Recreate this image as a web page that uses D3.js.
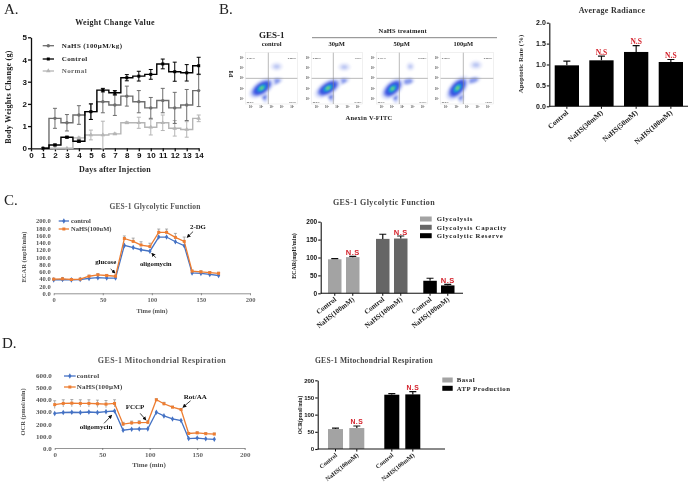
<!DOCTYPE html>
<html>
<head>
<meta charset="utf-8">
<script src="https://d3js.org/d3.v7.min.js"></script>
<style>
  html, body { margin: 0; padding: 0; background: #fff; }
  svg { display: block; }
  text { font-family: "Liberation Serif", serif; font-weight: bold; }
  .sans text, text.sans { font-family: "Liberation Sans", sans-serif; }
</style>
</head>
<body>
<div id="chart"></div>
<script>
// ---- Panel A: body weight ----
var days = [1,2,3,4,5,6,7,8,9,10,11,12,13,14];
var nahsWeight = [0,1.35,1.15,1.5,1.65,2.1,1.95,2.35,2.1,1.82,2.15,1.82,1.95,2.6];
var nahsWeightErr = [0,.45,.37,.42,.35,.5,.47,.45,.5,.47,.55,.7,.7,.72];
var controlWeight = [0,.15,.5,.32,1.65,2.62,2.5,3.18,3.25,3.33,3.8,3.45,3.4,3.72];
var controlWeightErr = [0,.04,.04,.05,.35,.08,.1,.14,.22,.22,.22,.43,.37,.38];
var normalWeight = [0,0,0,.47,.6,.6,.65,1.15,1.15,.95,1.15,.9,.85,1.35];
var normalWeightErr = [0,0,0,.03,.22,.62,.03,.04,.25,.35,.35,.35,.35,.15];

// ---- Panel B: flow cytometry and apoptosis ----
var flowPanels = ["control","30μM","50μM","100μM"];
var flowQuadrants = [
  ["0.101%","0.206%","99.2%","0.45%"],
  ["0.200%","1.01%","98.0%","0.79%"],
  ["0.113%","0.760%","98.4%","0.73%"],
  ["0.300%","0.980%","96.9%","1.82%"]
];
// cluster centre and spread in log decades, per panel: x, y, sx, sy, angle
var flowMain = [[1.55,1.55,1.15,.6,-35],[1.6,1.55,1.2,.6,-32],[1.55,1.5,1.1,.62,-42],[1.6,1.55,1.15,.62,-48]];
var flowTail = [[1.75,1.0,.3,.75,-12],[1.8,1.0,.3,.75,-12],[1.75,.95,.32,.75,-12],[1.8,1.0,.32,.75,-12]];
var flowMid = [[2.85,2.2,.62,.3,-15],[2.9,2.2,.7,.28,-15],[3.05,2.2,.55,.3,-12],[3.05,2.3,.62,.28,-15]];
var flowUpper = [[3.0,3.65,.6,.42,0],[3.2,3.6,.62,.42,0],[3.3,3.65,.4,.42,0],[3.35,3.8,.62,.42,0]];
var flowDecades = [1,2,3,4,5];

var apoptosisLabels = ["Control","NaHS(30mM)","NaHS(50mM)","NaHS(100mM)"];
var apoptosisRate = [.98,1.1,1.3,1.06];
var apoptosisErr = [.1,.1,.15,.06];
var apoptosisFlag = [false,true,true,true];

// ---- Panel C: glycolysis ----
var seahorseTime = [0,9,18,27,36,45,54,63,72,81,89,98,107,115,124,133,141,150,159,168];
var ecarControl = [37,38,37,38,41,43,42,42,132,126,120,116,155,155,142,131,56,55,52,49];
var ecarNahs = [39,40,38,39,47,51,49,47,151,143,133,129,168,168,154,143,61,59,57,55];
var ecarNahsErr = [2,3,2,2,3,3,3,3,7,9,9,9,9,9,11,12,3,3,3,3];
var ecarTicks = [0,20,40,60,80,100,120,140,160,180,200];
var glycoNames = ["Glycolysis","Glycolysis Capacity","Glycolytic Reserve"];
var glycoLabels = ["Control","NaHS(100mM)","Control","NaHS(100mM)","Control","NaHS(100mM)"];
var glycoValues = [95,101,152,153,35,22];
var glycoErr = [2,2,13,7,7,3];
var glycoGroup = [0,0,1,1,2,2];

// ---- Panel D: mitochondrial respiration ----
var ocrControl = [285,293,295,293,297,293,300,305,147,155,157,158,295,265,240,227,78,82,76,72];
var ocrNahs = [358,368,370,368,368,365,362,368,197,207,210,212,398,365,337,317,120,125,118,115];
var ocrNahsErr = [32,30,30,30,30,30,30,30,15,15,15,15,8,12,8,8,8,8,8,8];
var ocrTicks = [0,100,200,300,400,500,600];
var mitoNames = ["Basal","ATP Production"];
var mitoLabels = ["Control","NaHS(100mM)","Control","NaHS(100mM)"];
var mitoValues = [58,61,158,159];
var mitoErr = [3,6,3,8];
var mitoGroup = [0,0,1,1];

var rootSvg = d3.select("#chart").append("svg").attr("width", 689).attr("height", 484);
var defs = rootSvg.append("defs");

// the source figure is a soft, low resolution scan
defs.append("filter").attr("id","soft").attr("filterUnits","userSpaceOnUse")
  .attr("x",0).attr("y",0).attr("width",689).attr("height",484)
  .append("feGaussianBlur").attr("stdDeviation",.35);
var svg = rootSvg.append("g").attr("filter","url(#soft)");

function label(x, y, str, size, opts) {
  opts = opts || {};
  var t = svg.append("text")
    .attr("x", x).attr("y", y)
    .attr("font-size", size)
    .attr("text-anchor", opts.anchor || "middle")
    .attr("fill", opts.fill || "#222")
    .style("font-weight", opts.weight || "bold")
    .text(str);
  if (opts.ls) t.attr("letter-spacing", opts.ls);
  if (opts.sans) t.attr("class", "sans");
  if (opts.rotate) t.attr("transform", "rotate(" + opts.rotate + " " + x + " " + y + ")");
  return t;
}

// panel letters
label(4, 14, "A.", 15, {anchor: "start", weight: "normal"});
label(219, 14, "B.", 15, {anchor: "start", weight: "normal"});
label(4, 205, "C.", 15, {anchor: "start", weight: "normal"});
label(2, 348, "D.", 15, {anchor: "start", weight: "normal"});

function styleAxis(g, color, width, fontSize, sans) {
  g.selectAll("path, line").attr("stroke", color).attr("stroke-width", width);
  g.selectAll("text").attr("font-size", fontSize).attr("fill", color);
  if (sans) g.classed("sans", true);
}

// ---------------------------//
//       PANEL A              //
// ---------------------------//
var ax = d3.scaleLinear().domain([0,14]).range([31,198.7]);
var ay = d3.scaleLinear().domain([0,5]).range([148.3,37.3]);

svg.append("g").attr("transform","translate(0,148.3)")
  .call(d3.axisBottom(ax).ticks(14).tickSize(3).tickPadding(1).tickSizeOuter(0))
  .call(styleAxis, "#111", 1.3, 8, true);
svg.append("g").attr("transform","translate(31,0)")
  .call(d3.axisLeft(ay).ticks(5).tickSize(3).tickPadding(1).tickSizeOuter(0))
  .call(styleAxis, "#111", 1.3, 8, true);

var weightSeries = [
  {name:"Normal", values:normalWeight, err:normalWeightErr, color:"#b5b5b5", mark:d3.symbolTriangle},
  {name:"NaHS (100μM/kg)", values:nahsWeight, err:nahsWeightErr, color:"#6e6e6e", mark:d3.symbolCircle},
  {name:"Control", values:controlWeight, err:controlWeightErr, color:"#000", mark:d3.symbolSquare}
];
var stepLine = d3.line().curve(d3.curveStep)
  .x(function(d,i){ return ax(days[i]); })
  .y(function(d){ return ay(d); });

weightSeries.forEach(function(s) {
  var g = svg.append("g");
  g.append("path").attr("d", stepLine(s.values))
    .attr("fill","none").attr("stroke",s.color).attr("stroke-width",1.4);
  s.values.forEach(function(v,i) {
    if (!s.err[i]) return;
    var x = ax(days[i]);
    g.append("path")
      .attr("d","M"+(x-2)+","+ay(v+s.err[i])+"H"+(x+2)+"M"+x+","+ay(v+s.err[i])+"V"+ay(v-s.err[i])+"M"+(x-2)+","+ay(v-s.err[i])+"H"+(x+2))
      .attr("stroke",s.color).attr("stroke-width",1).attr("fill","none");
  });
  g.selectAll("path.mk").data(s.values).enter().append("path").attr("class","mk")
    .attr("d", d3.symbol().type(s.mark).size(9))
    .attr("transform", function(d,i){ return "translate("+ax(days[i])+","+ay(d)+")"; })
    .attr("fill", s.color);
});

var weightLegend = [weightSeries[1], weightSeries[2], weightSeries[0]];
weightLegend.forEach(function(s,i) {
  var y = [45.7,59,71][i];
  svg.append("line").attr("x1",42.7).attr("x2",54).attr("y1",y).attr("y2",y)
    .attr("stroke",s.color).attr("stroke-width",1.3);
  svg.append("path").attr("d", d3.symbol().type(s.mark).size(9))
    .attr("transform","translate(48.3,"+y+")").attr("fill",s.color);
  label(61.7, y+2.3, s.name, 7, {anchor:"start", fill: i==2 ? "#666" : "#222", ls:.4});
});
label(115, 24.5, "Weight Change Value", 8, {ls:.3});
label(115, 172, "Days after Injection", 8, {ls:.2});
label(11, 97, "Body Weights Change (g)", 8, {rotate:-90, ls:.3});

// ---------------------------//
//       PANEL B FLOW         //
// ---------------------------//
defs.append("filter").attr("id","flowBlur")
  .attr("x","-50%").attr("y","-50%").attr("width","200%").attr("height","200%")
  .append("feGaussianBlur").attr("stdDeviation",.9);
var flowBoxes = [[245.7,297.3],[311.7,362.7],[376.7,427.7],[440.7,493.3]];
var flowGates = [268.3,333.3,399.3,463.3];
// main population, outer haze to hot centre
var mainLayers = [
  {k:1.25, color:"#e3e7fb"},
  {k:1.0, color:"#8c9ff0"},
  {k:.8, color:"#3c55e2"},
  {k:.5, color:"#1c72e0"},
  {k:.34, color:"#16aed2"},
  {k:.22, color:"#2fd36c"},
  {k:.1, color:"#c8e438"}
];

flowPanels.forEach(function(name,p) {
  var box = flowBoxes[p];
  var fx = d3.scaleLinear().domain([0,5]).range(box);
  var fy = d3.scaleLinear().domain([0,5]).range([104,52.7]);
  var g = svg.append("g");
  g.append("rect").attr("x",box[0]).attr("y",52.7).attr("width",box[1]-box[0]).attr("height",51.3)
    .attr("fill","#fff").attr("stroke","#e2e2e2").attr("stroke-width",.5);

  var clip = defs.append("clipPath").attr("id","flowClip"+p);
  clip.append("rect").attr("x",box[0]).attr("y",52.7).attr("width",box[1]-box[0]).attr("height",51.3);
  var dots = g.append("g").attr("clip-path","url(#flowClip"+p+")").append("g").attr("filter","url(#flowBlur)");

  function blob(c, k, color, op) {
    dots.append("ellipse")
      .attr("cx",fx(c[0])).attr("cy",fy(c[1]))
      .attr("rx",fx(c[2]*k)-fx(0)).attr("ry",fx(c[3]*k)-fx(0))
      .attr("transform","rotate("+c[4]+" "+fx(c[0])+" "+fy(c[1])+")")
      .attr("fill",color).attr("opacity",op);
  }
  blob(flowUpper[p],1,"#e6e9fb",.9);
  blob(flowUpper[p],.5,"#b7c3f3",.9);
  blob(flowMid[p],1.25,"#dde2fa",.9);
  blob(flowMid[p],.85,"#7f93ec",.9);
  blob(flowTail[p],1.2,"#cdd5f8",.9);
  blob(flowTail[p],.8,"#5c74e6",.9);
  mainLayers.forEach(function(l){ blob(flowMain[p],l.k,l.color,1); });

  // gates
  g.append("line").attr("x1",flowGates[p]).attr("x2",flowGates[p]).attr("y1",52.7).attr("y2",104)
    .attr("stroke","#8a8a8a").attr("stroke-width",.6);
  g.append("line").attr("x1",box[0]).attr("x2",box[1]).attr("y1",fy(2.5)).attr("y2",fy(2.5))
    .attr("stroke","#8a8a8a").attr("stroke-width",.6);

  // tiny decade ticks and gate text
  flowDecades.forEach(function(d) {
    var tx = fx(d-.5), ty = fy(d-.5);
    g.append("text").attr("x",box[0]-2).attr("y",ty+1).attr("text-anchor","end")
      .attr("font-size",3).attr("fill","#555").text("10"+"⁰¹²³⁴⁵"[d]);
    g.append("text").attr("x",tx).attr("y",108).attr("text-anchor","middle")
      .attr("font-size",3).attr("fill","#555").text("10"+"⁰¹²³⁴⁵"[d]);
  });
  var q = flowQuadrants[p];
  g.append("text").attr("x",box[0]+1).attr("y",59).attr("font-size",2.6).attr("fill","#555").text(q[0]);
  g.append("text").attr("x",box[1]-1).attr("y",59).attr("text-anchor","end").attr("font-size",2.6).attr("fill","#555").text(q[1]);
  g.append("text").attr("x",box[0]+1).attr("y",103).attr("font-size",2.6).attr("fill","#555").text(q[2]);
  g.append("text").attr("x",box[1]-1).attr("y",103).attr("text-anchor","end").attr("font-size",2.6).attr("fill","#555").text(q[3]);
});

label(271.7, 37.7, "GES-1", 9);
label(271.7, 46, "control", 6.5);
label(402.7, 33, "NaHS treatment", 6.5, {ls:.2});
svg.append("line").attr("x1",312).attr("x2",497).attr("y1",37.7).attr("y2",37.7).attr("stroke","#666").attr("stroke-width",.8);
label(336.7, 46, "30μM", 6.5);
label(401.7, 46, "50μM", 6.5);
label(463.3, 46, "100μM", 6.5);
label(233, 74, "PI", 7, {rotate:-90});
label(369, 120, "Anexin V-FITC", 6.5, {ls:.3});

// ---------------------------//
//       BAR PANELS           //
// ---------------------------//
function barChart(cfg) {
  var x = d3.scaleOrdinal().domain(d3.range(cfg.values.length)).range(cfg.lefts);
  var y = d3.scaleLinear().domain(cfg.domain).range([cfg.base,cfg.top]);
  var g = svg.append("g");
  cfg.values.forEach(function(v,i) {
    var bx = x(i), bw = cfg.barWidth, cx = bx + bw/2;
    g.append("rect").attr("x",bx).attr("width",bw).attr("y",y(v)).attr("height",cfg.base-y(v))
      .attr("fill",cfg.colors[cfg.group ? cfg.group[i] : 0]);
    g.append("path").attr("d","M"+(cx-3.5)+","+y(v+cfg.err[i])+"H"+(cx+3.5)+"M"+cx+","+y(v+cfg.err[i])+"V"+y(v))
      .attr("stroke","#111").attr("stroke-width",1.2).attr("fill","none");
    // tick under each bar
    g.append("line").attr("x1",cx).attr("x2",cx).attr("y1",cfg.base).attr("y2",cfg.base+2.5)
      .attr("stroke","#111").attr("stroke-width",1);
    g.append("text")
      .attr("transform","translate("+(cx+2)+","+(cfg.base+7)+") rotate("+cfg.labelAngle+")")
      .attr("text-anchor","end").attr("font-size",cfg.labelSize).attr("fill","#222")
      .text(cfg.labels[i]);
    if (cfg.flags[i]) {
      g.append("text").attr("x",cx).attr("y",y(v+cfg.err[i])-1.5).attr("text-anchor","middle")
        .attr("font-size",cfg.flagSize).attr("fill","#d4202a").classed("sans",!!cfg.flagSans)
        .attr("letter-spacing",cfg.flagSans ? .5 : 0)
        .text("N.S");
    }
  });
  svg.append("g").attr("transform","translate("+cfg.axisX+",0)")
    .call(d3.axisLeft(y).tickValues(cfg.ticks).tickFormat(cfg.format).tickSize(2.5).tickPadding(1).tickSizeOuter(0))
    .call(styleAxis,"#111",1.1,cfg.tickSize,true);
  svg.append("line").attr("x1",cfg.axisX).attr("x2",cfg.axisEnd).attr("y1",cfg.base).attr("y2",cfg.base)
    .attr("stroke","#111").attr("stroke-width",1.1);
}

barChart({
  values:apoptosisRate, err:apoptosisErr, labels:apoptosisLabels, flags:apoptosisFlag,
  domain:[0,2], base:106.3, top:22.7, axisX:549.3, axisEnd:688,
  lefts:[554.7,589.3,624,658.7], barWidth:24.3,
  colors:["#000"], ticks:[0,.5,1,1.5,2], format:d3.format(".1f"),
  labelSize:7.3, labelAngle:-41, flagSize:7.5, tickSize:7
});
label(612, 12.5, "Average Radiance", 8, {fill:"#333", ls:.3});
label(523, 64, "Apoptotic Rate (%)", 7, {rotate:-90, fill:"#333"});

barChart({
  values:glycoValues, err:glycoErr, labels:glycoLabels, group:glycoGroup,
  flags:[false,true,false,true,false,true],
  domain:[0,200], base:293.3, top:221.7, axisX:320.7, axisEnd:463,
  lefts:[328,346,376,394,423.3,441], barWidth:13.5,
  colors:["#a3a3a3","#666666","#000"], ticks:[0,50,100,150,200], format:d3.format("d"),
  labelSize:7, labelAngle:-38, flagSize:7.5, flagSans:true, tickSize:6.5
});
label(384, 205, "GES-1 Glycolytic Function", 8, {fill:"#444", ls:.4});
label(296, 256, "ECAR(mpH/min)", 6, {rotate:-90});
glycoNames.forEach(function(n,i) {
  var y = [219,227.3,235.7][i];
  svg.append("rect").attr("x",420).attr("y",y-2.5).attr("width",11.7).attr("height",5)
    .attr("fill",["#a3a3a3","#666666","#000"][i]);
  label(436.7, y+2.2, n, 6.8, {anchor:"start", ls:.7});
});

barChart({
  values:mitoValues, err:mitoErr, labels:mitoLabels, group:mitoGroup,
  flags:[false,true,false,true],
  domain:[0,200], base:449, top:380.3, axisX:317.7, axisEnd:445,
  lefts:[328,349.3,384.3,405.3], barWidth:15,
  colors:["#a3a3a3","#000"], ticks:[0,50,100,150,200], format:d3.format("d"),
  labelSize:6.2, labelAngle:-39, flagSize:6.8, flagSans:true, tickSize:6
});
label(374, 363, "GES-1 Mitochondrial Respiration", 7.5, {fill:"#444", ls:.3});
label(302, 415, "OCR(pmol/min)", 5.5, {rotate:-90});
mitoNames.forEach(function(n,i) {
  var y = [380,388.3][i];
  svg.append("rect").attr("x",442.3).attr("y",y-2.5).attr("width",10.4).attr("height",5)
    .attr("fill",["#a3a3a3","#000"][i]);
  label(456.7, y+2.2, n, 6.8, {anchor:"start", ls:.5});
});

// ---------------------------//
//       SEAHORSE LINES       //
// ---------------------------//
defs.append("marker").attr("id","arrow").attr("viewBox","0 0 6 6").attr("refX",5).attr("refY",3)
  .attr("markerWidth",5).attr("markerHeight",5).attr("orient","auto")
  .append("path").attr("d","M0,0L6,3L0,6Z").attr("fill","#111");

function seahorse(cfg) {
  var x = d3.scaleLinear().domain([0,200]).range(cfg.xr);
  var y = d3.scaleLinear().domain(cfg.domain).range(cfg.yr);
  svg.append("g").attr("transform","translate(0,"+cfg.yr[0]+")")
    .call(d3.axisBottom(x).ticks(4).tickSize(2).tickPadding(2).tickSizeOuter(0))
    .call(styleAxis,"#666",.7,cfg.tickSize);
  svg.append("g").attr("transform","translate("+cfg.xr[0]+",0)")
    .call(d3.axisLeft(y).tickValues(cfg.ticks).tickFormat(d3.format(".1f")).tickSize(0).tickPadding(3))
    .call(styleAxis,"#555",.7,cfg.tickSize)
    .select("path").attr("stroke","none");

  var line = d3.line().x(function(d,i){ return x(seahorseTime[i]); }).y(function(d){ return y(d); });

  // error bars first so the lines sit on top
  cfg.nahsErr.forEach(function(e,i) {
    var px = x(seahorseTime[i]);
    svg.append("path")
      .attr("d","M"+(px-1.5)+","+y(cfg.nahs[i]+e)+"H"+(px+1.5)+"M"+px+","+y(cfg.nahs[i]+e)+"V"+y(cfg.nahs[i]-(cfg.both?e:0)))
      .attr("stroke","#8a8a8a").attr("stroke-width",.7).attr("fill","none");
  });
  [[cfg.control,"#4472c4",d3.symbolDiamond],[cfg.nahs,"#ed7d31",d3.symbolSquare]].forEach(function(s) {
    svg.append("path").attr("d",line(s[0])).attr("fill","none").attr("stroke",s[1]).attr("stroke-width",1.3);
    svg.append("g").selectAll("path").data(s[0]).enter().append("path")
      .attr("d",d3.symbol().type(s[2]).size(9))
      .attr("transform",function(d,i){ return "translate("+x(seahorseTime[i])+","+y(d)+")"; })
      .attr("fill",s[1]);
  });

  cfg.notes.forEach(function(n) {
    label(x(n.t), y(n.v), n.text, cfg.noteSize, {fill:"#111"});
    svg.append("line").attr("x1",x(n.from[0])).attr("y1",y(n.from[1]))
      .attr("x2",x(n.to[0])).attr("y2",y(n.to[1]))
      .attr("stroke","#111").attr("stroke-width",.8).attr("marker-end","url(#arrow)");
  });
}

seahorse({
  xr:[53.7,250], yr:[293.3,220.7], domain:[0,200], ticks:ecarTicks, tickSize:6.5, noteSize:6.8,
  control:ecarControl, nahs:ecarNahs, nahsErr:ecarNahsErr, both:false,
  notes:[
    {text:"glucose", t:53, v:81, from:[58,67], to:[62.5,56]},
    {text:"oligomycin", t:104, v:76, from:[104,98], to:[100,110]},
    {text:"2-DG", t:147, v:177, from:[142,170], to:[136,154]}
  ]
});
label(155, 209, "GES-1 Glycolytic Function", 7.5, {fill:"#555", ls:.2});
label(152, 313, "Time (min)", 6.5, {fill:"#555"});
label(26, 257, "ECAR (mpH/min)", 6.5, {rotate:-90, fill:"#555"});

seahorse({
  xr:[54.7,244.7], yr:[448,375.3], domain:[0,600], ticks:ocrTicks, tickSize:7, noteSize:7,
  control:ocrControl, nahs:ocrNahs, nahsErr:ocrNahsErr, both:true,
  notes:[
    {text:"oligomycin", t:43.5, v:157, from:[52,204], to:[60,270]},
    {text:"FCCP", t:84.5, v:322, from:[90,286], to:[96,231]},
    {text:"Rot/AA", t:148, v:404, from:[143,390], to:[135,336]}
  ]
});
label(162, 363, "GES-1 Mitochondrial Respiration", 8, {fill:"#555", ls:.4});
label(149, 467, "Time (min)", 7, {fill:"#555"});
label(25, 412, "OCR (pmol/min)", 6.5, {rotate:-90, fill:"#555"});

// line legends for C and D
[[58.7,69,221,"control","#4472c4",d3.symbolDiamond,71],
 [58.7,69,229,"NaHS(100uM)","#ed7d31",d3.symbolSquare,71],
 [64,75.7,376,"control","#4472c4",d3.symbolDiamond,76.7],
 [64,75.7,387,"NaHS(100μM)","#ed7d31",d3.symbolSquare,76.7]].forEach(function(l) {
  svg.append("line").attr("x1",l[0]).attr("x2",l[1]).attr("y1",l[2]).attr("y2",l[2]).attr("stroke",l[4]).attr("stroke-width",1.3);
  svg.append("path").attr("d",d3.symbol().type(l[5]).size(9))
    .attr("transform","translate("+((l[0]+l[1])/2)+","+l[2]+")").attr("fill",l[4]);
  label(l[6], l[2]+2.3, l[3], l[6]>72 ? 7 : 6.5, {anchor:"start", fill:"#444", ls: l[6]>72 ? .2 : 0});
});
</script>
</body>
</html>
